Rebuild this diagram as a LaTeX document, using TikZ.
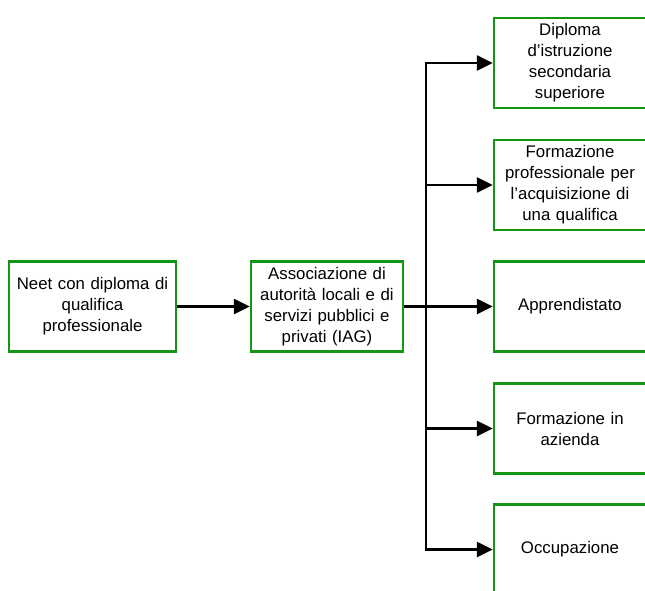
\documentclass[tikz,border=0pt]{standalone}
\usepackage{fontspec}
\setmainfont{Liberation Sans}
\usetikzlibrary{arrows.meta}
\definecolor{boxgreen}{RGB}{20,150,20}
\begin{document}
\begin{tikzpicture}[x=1pt,y=-1pt,
  box/.style={draw=boxgreen,line width=2.5pt,fill=white,align=center,
    font=\fontsize{16.8}{21}\selectfont,inner sep=0pt,
    minimum height=90pt,text width=148pt},
  wide/.style={minimum width=167pt,text width=163pt},
  link/.style={line width=2.6pt,-{Triangle[length=16pt,width=15pt]}}]
\useasboundingbox (0,0) rectangle (645,591);
\clip (0,0) rectangle (645,591);
% source and coordinating body
\node[box,wide] (neet) at (92.5,306.5) {Neet con diploma di\\qualifica\\professionale};
\node[box,minimum width=152pt] (iag) at (327,306.5) {Associazione di\\autorità locali e di\\servizi pubblici e\\privati (IAG)};
% outcomes
\node[box,minimum width=152pt] (o1) at (570,63) {Diploma\\d’istruzione\\secondaria\\superiore};
\node[box,minimum width=152pt] (o2) at (570,185) {Formazione\\professionale per\\l’acquisizione di\\una qualifica};
\node[box,minimum width=152pt] (o3) at (570,306.5) {Apprendistato};
\node[box,minimum width=152pt] (o4) at (570,428.5) {Formazione in\\azienda};
\node[box,minimum width=152pt] (o5) at (570,549.5) {Occupazione};
% connectors
\coordinate (bus) at (426,306.5);
\draw[link] (neet.east) -- (iag.west);
\draw[line width=2.6pt] (iag.east) -- (bus);
\foreach \t in {o1,o2,o3,o4,o5}
  \draw[link] (bus) |- (\t.west);
\end{tikzpicture}
\end{document}
